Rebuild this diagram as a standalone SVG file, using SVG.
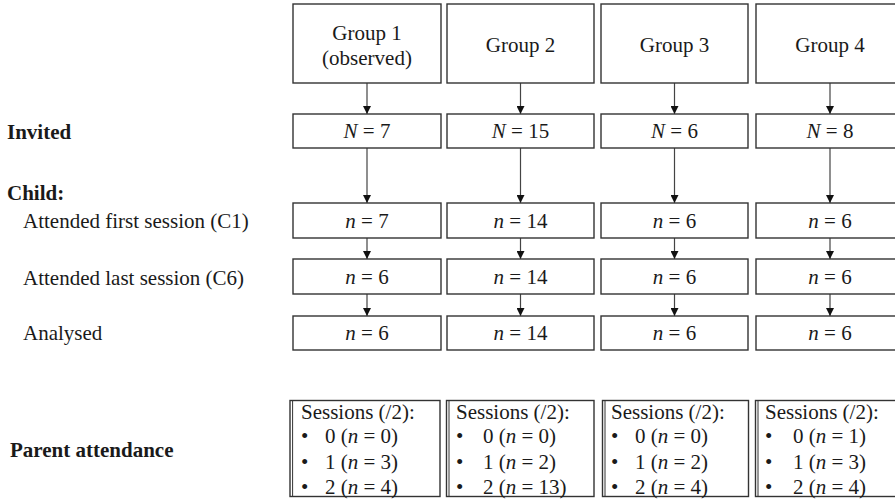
<svg xmlns="http://www.w3.org/2000/svg" width="895" height="500" viewBox="0 0 895 500">
<style>
text{font-family:"Liberation Serif","Times New Roman",serif;font-size:21px;fill:#1a1a1a}
.b{font-weight:bold}
.c{text-anchor:middle}
.i{font-style:italic}
.box{fill:#fff;stroke:#333;stroke-width:1.4}
.arr{stroke:#444;stroke-width:1.2;fill:none;marker-end:url(#ah)}
</style>
<defs>
<marker id="ah" viewBox="0 0 8 8" refX="8" refY="4" markerWidth="8" markerHeight="8" markerUnits="userSpaceOnUse" orient="auto">
<path d="M0,0 L8,4 L0,8 Z" fill="#111"/>
</marker>
</defs>
<rect width="895" height="500" fill="#fff"/>

<g id="labels">
<text class="b" x="7" y="139">Invited</text>
<text class="b" x="7" y="200">Child:</text>
<text x="23" y="228">Attended first session (C1)</text>
<text x="23" y="285">Attended last session (C6)</text>
<text x="23" y="340">Analysed</text>
<text class="b" x="10" y="457">Parent attendance</text>
</g>

<g id="connectors">
<line class="arr" x1="367" y1="83" x2="367" y2="114"/>
<line class="arr" x1="520.5" y1="83" x2="520.5" y2="114"/>
<line class="arr" x1="674.5" y1="83" x2="674.5" y2="114"/>
<line class="arr" x1="830" y1="83" x2="830" y2="114"/>
<line class="arr" x1="367" y1="148" x2="367" y2="203"/>
<line class="arr" x1="520.5" y1="148" x2="520.5" y2="203"/>
<line class="arr" x1="674.5" y1="148" x2="674.5" y2="203"/>
<line class="arr" x1="830" y1="148" x2="830" y2="203"/>
<line class="arr" x1="367" y1="238" x2="367" y2="259"/>
<line class="arr" x1="520.5" y1="238" x2="520.5" y2="259"/>
<line class="arr" x1="674.5" y1="238" x2="674.5" y2="259"/>
<line class="arr" x1="830" y1="238" x2="830" y2="259"/>
<line class="arr" x1="367" y1="294" x2="367" y2="316"/>
<line class="arr" x1="520.5" y1="294" x2="520.5" y2="316"/>
<line class="arr" x1="674.5" y1="294" x2="674.5" y2="316"/>
<line class="arr" x1="830" y1="294" x2="830" y2="316"/>
</g>

<g id="group1">
<rect class="box" x="293" y="4" width="148" height="79"/>
<text class="c" x="367" y="40">Group 1</text>
<text class="c" x="367" y="65">(observed)</text>
</g>
<g id="group2">
<rect class="box" x="447" y="4" width="147" height="79"/>
<text class="c" x="520.5" y="52">Group 2</text>
</g>
<g id="group3">
<rect class="box" x="601" y="4" width="147" height="79"/>
<text class="c" x="674.5" y="52">Group 3</text>
</g>
<g id="group4">
<rect class="box" x="756" y="4" width="148" height="79"/>
<text class="c" x="830" y="52">Group 4</text>
</g>

<g id="invited1"><rect class="box" x="293" y="114" width="148" height="34"/><text class="c" x="367" y="138"><tspan class="i">N</tspan> = 7</text></g>
<g id="invited2"><rect class="box" x="447" y="114" width="147" height="34"/><text class="c" x="520.5" y="138"><tspan class="i">N</tspan> = 15</text></g>
<g id="invited3"><rect class="box" x="601" y="114" width="147" height="34"/><text class="c" x="674.5" y="138"><tspan class="i">N</tspan> = 6</text></g>
<g id="invited4"><rect class="box" x="756" y="114" width="148" height="34"/><text class="c" x="830" y="138"><tspan class="i">N</tspan> = 8</text></g>

<g id="c1_1"><rect class="box" x="293" y="203" width="148" height="35"/><text class="c" x="367" y="228"><tspan class="i">n</tspan> = 7</text></g>
<g id="c1_2"><rect class="box" x="447" y="203" width="147" height="35"/><text class="c" x="520.5" y="228"><tspan class="i">n</tspan> = 14</text></g>
<g id="c1_3"><rect class="box" x="601" y="203" width="147" height="35"/><text class="c" x="674.5" y="228"><tspan class="i">n</tspan> = 6</text></g>
<g id="c1_4"><rect class="box" x="756" y="203" width="148" height="35"/><text class="c" x="830" y="228"><tspan class="i">n</tspan> = 6</text></g>

<g id="c6_1"><rect class="box" x="293" y="259" width="148" height="35"/><text class="c" x="367" y="284"><tspan class="i">n</tspan> = 6</text></g>
<g id="c6_2"><rect class="box" x="447" y="259" width="147" height="35"/><text class="c" x="520.5" y="284"><tspan class="i">n</tspan> = 14</text></g>
<g id="c6_3"><rect class="box" x="601" y="259" width="147" height="35"/><text class="c" x="674.5" y="284"><tspan class="i">n</tspan> = 6</text></g>
<g id="c6_4"><rect class="box" x="756" y="259" width="148" height="35"/><text class="c" x="830" y="284"><tspan class="i">n</tspan> = 6</text></g>

<g id="an_1"><rect class="box" x="293" y="316" width="148" height="34"/><text class="c" x="367" y="340"><tspan class="i">n</tspan> = 6</text></g>
<g id="an_2"><rect class="box" x="447" y="316" width="147" height="34"/><text class="c" x="520.5" y="340"><tspan class="i">n</tspan> = 14</text></g>
<g id="an_3"><rect class="box" x="601" y="316" width="147" height="34"/><text class="c" x="674.5" y="340"><tspan class="i">n</tspan> = 6</text></g>
<g id="an_4"><rect class="box" x="756" y="316" width="148" height="34"/><text class="c" x="830" y="340"><tspan class="i">n</tspan> = 6</text></g>

<g id="parent1">
<rect class="box" x="290" y="400.5" width="150" height="96"/>
<line x1="292.6" y1="400.5" x2="292.6" y2="496.5" stroke="#333" stroke-width="1"/>
<text x="301" y="419">Sessions (/2):</text>
<text x="301" y="443">•</text><text x="325" y="443">0 (<tspan class="i">n</tspan> = 0)</text>
<text x="301" y="469">•</text><text x="325" y="469">1 (<tspan class="i">n</tspan> = 3)</text>
<text x="301" y="494">•</text><text x="325" y="494">2 (<tspan class="i">n</tspan> = 4)</text>
</g>
<g id="parent2">
<rect class="box" x="446.5" y="400.5" width="147.5" height="96"/>
<line x1="449" y1="400.5" x2="449" y2="496.5" stroke="#333" stroke-width="1"/>
<text x="456" y="419">Sessions (/2):</text>
<text x="456" y="443">•</text><text x="483" y="443">0 (<tspan class="i">n</tspan> = 0)</text>
<text x="456" y="469">•</text><text x="483" y="469">1 (<tspan class="i">n</tspan> = 2)</text>
<text x="456" y="494">•</text><text x="483" y="494">2 (<tspan class="i">n</tspan> = 13)</text>
</g>
<g id="parent3">
<rect class="box" x="602.5" y="400.5" width="146" height="96"/>
<line x1="605" y1="400.5" x2="605" y2="496.5" stroke="#333" stroke-width="1"/>
<text x="611" y="419">Sessions (/2):</text>
<text x="611" y="443">•</text><text x="635" y="443">0 (<tspan class="i">n</tspan> = 0)</text>
<text x="611" y="469">•</text><text x="635" y="469">1 (<tspan class="i">n</tspan> = 2)</text>
<text x="611" y="494">•</text><text x="635" y="494">2 (<tspan class="i">n</tspan> = 4)</text>
</g>
<g id="parent4">
<rect class="box" x="755.5" y="400.5" width="155" height="96"/>
<line x1="758" y1="400.5" x2="758" y2="496.5" stroke="#333" stroke-width="1"/>
<text x="765" y="419">Sessions (/2):</text>
<text x="765" y="443">•</text><text x="793" y="443">0 (<tspan class="i">n</tspan> = 1)</text>
<text x="765" y="469">•</text><text x="793" y="469">1 (<tspan class="i">n</tspan> = 3)</text>
<text x="765" y="494">•</text><text x="793" y="494">2 (<tspan class="i">n</tspan> = 4)</text>
</g>
</svg>
